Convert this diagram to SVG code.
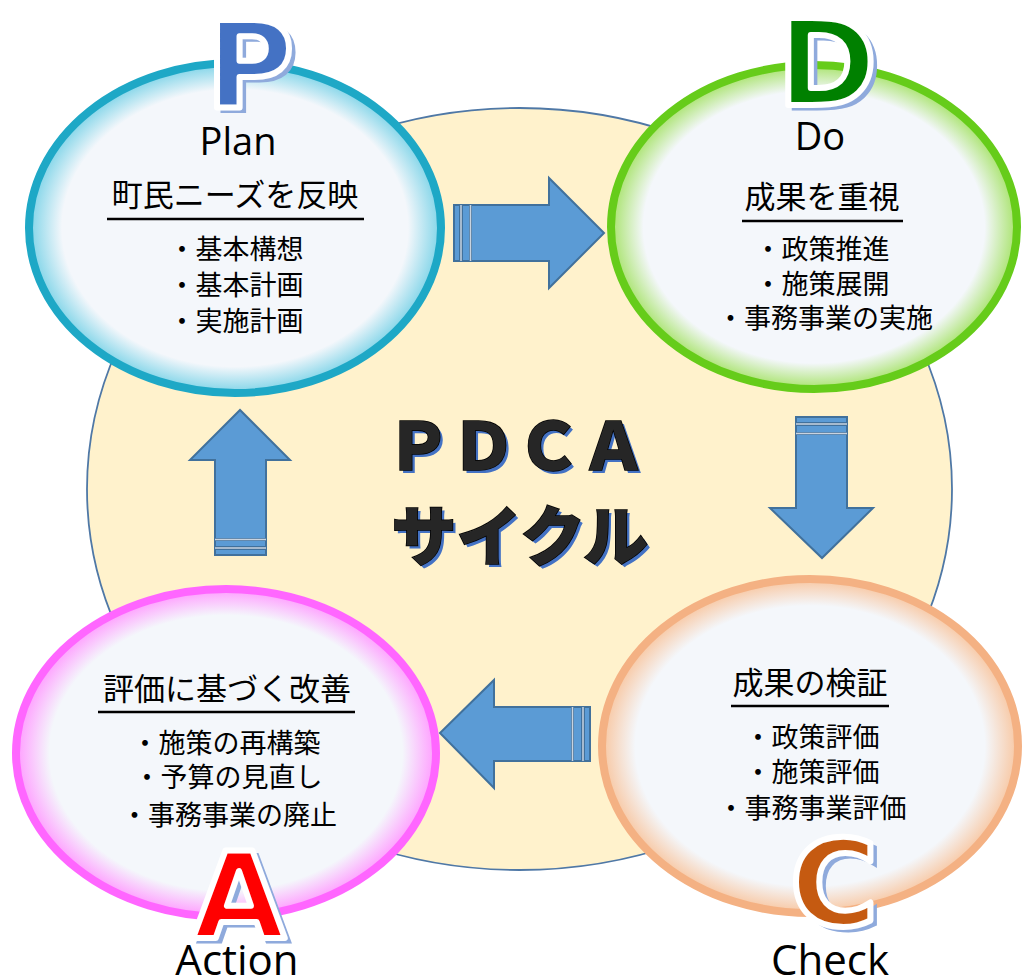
<svg xmlns="http://www.w3.org/2000/svg" width="1023" height="979" viewBox="0 0 1023 979">
<style>
.big{font-family:"DejaVu Sans",sans-serif;font-weight:bold;font-size:120px;text-anchor:middle}
.shadow{fill:#8faadc;stroke:#8faadc;stroke-width:3}
.main{stroke:#ffffff;stroke-width:6;stroke-linejoin:round}
.lab{font-family:"Open Sans","Noto Sans",sans-serif;font-size:38px;fill:#000;text-anchor:middle}
.lab2{font-family:"Open Sans","Noto Sans",sans-serif;font-size:42px;fill:#000;text-anchor:middle}
.hd{font-family:"Noto Sans CJK JP",sans-serif;font-size:31px;fill:#000;text-anchor:middle}
.bl{font-family:"Noto Sans CJK JP",sans-serif;font-size:27px;fill:#000;text-anchor:middle}
.ul{stroke:#000;stroke-width:2.5}
.arr{fill:#5b9bd5;stroke:#41719c;stroke-width:2;stroke-linejoin:miter}
.gap{stroke:#c9d3df;stroke-width:1.5}
.ctr{font-family:"Noto Sans CJK JP",sans-serif;font-weight:900;text-anchor:middle}
.cs{fill:#4472c4}
.cm{fill:#262626;stroke:#000;stroke-width:1.5;paint-order:stroke}
</style>
<defs>
<radialGradient id="gP" cx="0.5" cy="0.5" r="0.5"><stop offset="0" stop-color="#f4f7fb"/><stop offset="0.84" stop-color="#f4f7fb"/><stop offset="1" stop-color="#7fd4e8"/></radialGradient>
<radialGradient id="gD" cx="0.5" cy="0.5" r="0.5"><stop offset="0" stop-color="#f4f7fb"/><stop offset="0.84" stop-color="#f4f7fb"/><stop offset="1" stop-color="#a8e36c"/></radialGradient>
<radialGradient id="gC" cx="0.5" cy="0.5" r="0.5"><stop offset="0" stop-color="#f4f7fb"/><stop offset="0.84" stop-color="#f4f7fb"/><stop offset="1" stop-color="#f8c7a2"/></radialGradient>
<radialGradient id="gA" cx="0.5" cy="0.5" r="0.5"><stop offset="0" stop-color="#f4f7fb"/><stop offset="0.84" stop-color="#f4f7fb"/><stop offset="1" stop-color="#ff9cff"/></radialGradient>
</defs>

<g id="background">
<ellipse cx="519.5" cy="489" rx="432.5" ry="381" fill="#fff2cc" stroke="#4f78a6" stroke-width="1.8"/>
</g>

<g id="connectors">
<g id="arrow-right">
<rect class="arr" x="454" y="205" width="6" height="56"/>
<rect class="arr" x="462" y="205" width="8" height="56"/>
<polygon class="arr" points="471,205 549,205 549,178 604,233 549,288 549,261 471,261"/>
<line class="gap" x1="461" y1="205" x2="461" y2="261"/>
<line class="gap" x1="470.5" y1="205" x2="470.5" y2="261"/>
</g>
<g id="arrow-down">
<rect class="arr" x="796" y="417" width="51" height="6"/>
<rect class="arr" x="796" y="425" width="51" height="8"/>
<polygon class="arr" points="796,434 796,508 770,508 822,558 873,508 847,508 847,434"/>
<line class="gap" x1="796" y1="424" x2="847" y2="424"/>
<line class="gap" x1="796" y1="433.5" x2="847" y2="433.5"/>
</g>
<g id="arrow-left">
<rect class="arr" x="573" y="707" width="9" height="54"/>
<rect class="arr" x="584" y="707" width="6" height="54"/>
<polygon class="arr" points="572,707 494,707 494,680 440,733 494,788 494,761 572,761"/>
<line class="gap" x1="572.5" y1="707" x2="572.5" y2="761"/>
<line class="gap" x1="583" y1="707" x2="583" y2="761"/>
</g>
<g id="arrow-up">
<rect class="arr" x="215" y="540" width="51" height="7"/>
<rect class="arr" x="215" y="549" width="51" height="6"/>
<polygon class="arr" points="215,539 215,460 190,460 240,410 290,460 266,460 266,539"/>
<line class="gap" x1="215" y1="539.5" x2="266" y2="539.5"/>
<line class="gap" x1="215" y1="548" x2="266" y2="548"/>
</g>
</g>

<g id="center-title">
<text class="ctr cs" x="519" y="473" font-size="65">ＰＤＣＡ</text>
<text class="ctr cm" x="516" y="470" font-size="65">ＰＤＣＡ</text>
<text class="ctr cs" x="523" y="563" font-size="65">サイクル</text>
<text class="ctr cm" x="520" y="560" font-size="65">サイクル</text>
</g>

<g id="node-plan">
<ellipse cx="235" cy="228" rx="206" ry="165" fill="url(#gP)" stroke="#1ea8c6" stroke-width="8"/>
<text class="big shadow" x="255" y="111">P</text>
<text class="big main" x="250" y="107" fill="#4472c4">P</text>
<text class="lab" x="238" y="155">Plan</text>
<text class="hd" x="235" y="206">町民ニーズを反映</text>
<line class="ul" x1="107" y1="219" x2="364" y2="219"/>
<text class="bl" x="236" y="259">・基本構想</text>
<text class="bl" x="236" y="295">・基本計画</text>
<text class="bl" x="236" y="331">・実施計画</text>
</g>

<g id="node-do">
<ellipse cx="814" cy="227" rx="203" ry="162" fill="url(#gD)" stroke="#66cc1a" stroke-width="8"/>
<text class="big shadow" x="832" y="109">D</text>
<text class="big main" x="827" y="105" fill="#008000">D</text>
<text class="lab" x="820" y="150">Do</text>
<text class="hd" x="822" y="208">成果を重視</text>
<line class="ul" x1="742" y1="221" x2="903" y2="221"/>
<text class="bl" x="822" y="259">・政策推進</text>
<text class="bl" x="822" y="294">・施策展開</text>
<text class="bl" x="825" y="328">・事務事業の実施</text>
</g>

<g id="node-check">
<ellipse cx="810" cy="746" rx="208" ry="167" fill="url(#gC)" stroke="#f4b183" stroke-width="8"/>
<text class="big shadow" x="839" y="929">C</text>
<text class="big main" x="834" y="925" fill="#c55a11">C</text>
<text class="lab2" x="830" y="975">Check</text>
<text class="hd" x="810" y="694">成果の検証</text>
<line class="ul" x1="731" y1="706" x2="889" y2="706"/>
<text class="bl" x="812" y="747">・政策評価</text>
<text class="bl" x="812" y="782">・施策評価</text>
<text class="bl" x="812" y="818">・事務事業評価</text>
</g>

<g id="node-action">
<ellipse cx="226" cy="753" rx="210" ry="164" fill="url(#gA)" stroke="#ff66ff" stroke-width="8"/>
<text class="big shadow" x="244" y="942">A</text>
<text class="big main" x="239" y="938" fill="#ff0000">A</text>
<text class="lab2" x="237" y="975">Action</text>
<text class="hd" x="227" y="700">評価に基づく改善</text>
<line class="ul" x1="98" y1="712" x2="355" y2="712"/>
<text class="bl" x="226" y="753">・施策の再構築</text>
<text class="bl" x="228" y="787">・予算の見直し</text>
<text class="bl" x="229" y="825">・事務事業の廃止</text>
</g>
</svg>
